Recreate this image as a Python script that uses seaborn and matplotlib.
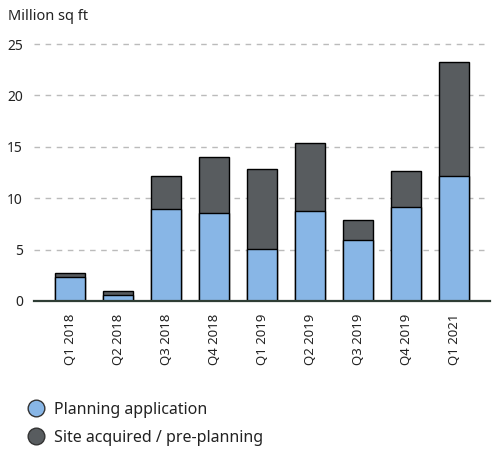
import matplotlib
matplotlib.use('Agg')
import matplotlib.pyplot as plt
from matplotlib.lines import Line2D
import seaborn as sns
import pandas as pd

quarters = ['Q1 2018', 'Q2 2018', 'Q3 2018', 'Q4 2018', 'Q1 2019',
            'Q2 2019', 'Q3 2019', 'Q4 2019', 'Q1 2021']
planning = [2.3, 0.55, 8.95, 8.6, 5.1, 8.8, 5.95, 9.1, 12.15]
site_acquired = [0.4, 0.4, 3.2, 5.4, 7.75, 6.6, 1.95, 3.55, 11.15]

df = pd.DataFrame({'quarter': quarters, 'planning': planning,
                   'site': site_acquired})
df['total'] = df['planning'] + df['site']

sns.set_style('white')
plt.rcParams['font.family'] = ['Noto Sans', 'DejaVu Sans']

blue = '#88B6E6'
dark = '#585C5F'

fig = plt.figure(figsize=(4.92, 4.5), dpi=100)
ax = fig.add_axes([34 / 492, 1 - 301 / 450, 456 / 492, 261 / 450])

sns.barplot(data=df, x='quarter', y='total', color=dark, width=0.63,
            edgecolor='black', linewidth=1, saturation=1, ax=ax, zorder=3)
sns.barplot(data=df, x='quarter', y='planning', color=blue, width=0.63,
            edgecolor='black', linewidth=1, saturation=1, ax=ax, zorder=4)

ax.set_xlim(-0.75, 8.75)
ax.set_ylim(0, 25.4)
ax.set_yticks([0, 5, 10, 15, 20, 25])
ax.yaxis.grid(True, linestyle=(0, (4, 4)), color='#BBBBBB', linewidth=1)
ax.set_axisbelow(True)
for s in ['top', 'right', 'left']:
    ax.spines[s].set_visible(False)
ax.spines['bottom'].set_color('#2F3D35')
ax.spines['bottom'].set_linewidth(1.6)
ax.spines['bottom'].set_zorder(5)
ax.set_xlabel('')
ax.set_ylabel('')
ax.tick_params(axis='x', length=0, pad=9, labelsize=9.5, colors='#222222')
ax.tick_params(axis='y', length=0, pad=8, labelsize=10, colors='#222222')
plt.setp(ax.get_xticklabels(), rotation=90)

fig.text(8 / 492, 1 - 17 / 450, 'Million sq ft', fontsize=10.5,
         color='#222222', va='center', ha='left')

handles = [
    Line2D([], [], marker='o', linestyle='', markersize=12,
           markerfacecolor=blue, markeredgecolor='#333333', markeredgewidth=1),
    Line2D([], [], marker='o', linestyle='', markersize=12,
           markerfacecolor=dark, markeredgecolor='#333333', markeredgewidth=1),
]
fig.legend(handles, ['Planning application', 'Site acquired / pre-planning'],
           loc='upper left', bbox_to_anchor=(28 / 492, 1 - 402 / 450),
           frameon=False, fontsize=11.5, handletextpad=0.6, labelspacing=0.72,
           borderaxespad=0, borderpad=0, handlelength=1.0, labelcolor='#222222')

fig.savefig('out.png', dpi=100)
